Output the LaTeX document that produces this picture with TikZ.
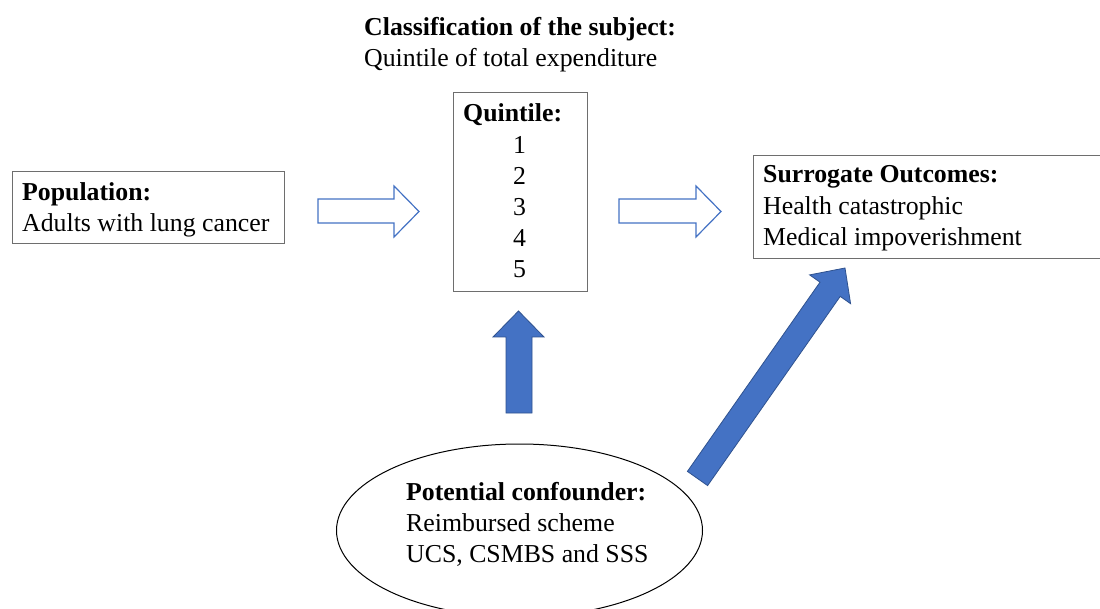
\documentclass[tikz,border=0pt]{standalone}
\usepackage{fontspec}
\setmainfont{Liberation Serif}
\definecolor{ablue}{HTML}{4472C4}
\definecolor{ablueline}{HTML}{2F528F}
\definecolor{boxline}{HTML}{6E6E6E}
\tikzset{
  box/.style={draw=boxline, line width=1.3pt, fill=white, inner sep=0pt, anchor=north west},
  txt/.style={inner sep=0pt, anchor=base west, align=left, font=\fontsize{25.8}{31.5}\selectfont},
  hollowarrow/.style={draw=ablue, line width=1.2pt, fill=white, line join=miter},
  solidarrow/.style={draw=ablueline, line width=0.8pt, fill=ablue, line join=miter},
  oval/.style={draw=black, line width=1pt, ellipse, inner sep=0pt}
}
\usetikzlibrary{shapes.geometric}
\begin{document}
\begin{tikzpicture}[x=1pt,y=-1pt]
\clip (0,0) rectangle (1100,609);
\fill[white] (0,0) rectangle (1100,609);

% title (base anchor = baseline of last line)
\node[txt] (title) at (364,67) {\textbf{Classification of the subject:}\\Quintile of total expenditure};

% boxes
\node[box, minimum width=272pt, minimum height=72pt] (pop) at (12,171) {};
\node[txt] (popT) at (22,232) {\textbf{Population:}\\Adults with lung cancer};

\node[box, minimum width=134pt, minimum height=199pt] (quin) at (453,92) {};
\node[txt] (quinT) at (463,122) {\textbf{Quintile:}};
\node[txt, anchor=base, align=center, font=\fontsize{25.8}{31.2}\selectfont] (quinN) at (519.5,278) {1\\2\\3\\4\\5};

\node[box, minimum width=360pt, minimum height=103pt] (out) at (753,155) {};
\node[txt] (outT) at (763,246) {\textbf{Surrogate Outcomes:}\\Health catastrophic\\Medical impoverishment};

% ellipse
\node[oval, minimum width=366pt, minimum height=173pt] (conf) at (519.5,530.5) {};
\node[txt, font=\fontsize{25.8}{31}\selectfont] (confT) at (406,562) {\textbf{Potential confounder:}\\Reimbursed scheme\\UCS, CSMBS and SSS};

% hollow arrows (pop -> quin -> out)
\draw[hollowarrow] (318,199) -- (394,199) -- (394,186) -- (419,211.5) -- (394,237) -- (394,223) -- (318,223) -- cycle;
\draw[hollowarrow] (619,199) -- (696,199) -- (696,186) -- (721,211.5) -- (696,237) -- (696,223) -- (619,223) -- cycle;

% solid arrows (conf -> quin, conf -> out)
\draw[solidarrow] (506,413) -- (506,337) -- (493,337) -- (518.5,311) -- (544,337) -- (532,337) -- (532,413) -- cycle;
\draw[solidarrow] (687.4,471.4) -- (820.0,282.2) -- (809.6,274.9) -- (845,268) -- (850.6,303.7) -- (840.2,296.4) -- (707.6,485.6) -- cycle;
\end{tikzpicture}
\end{document}
